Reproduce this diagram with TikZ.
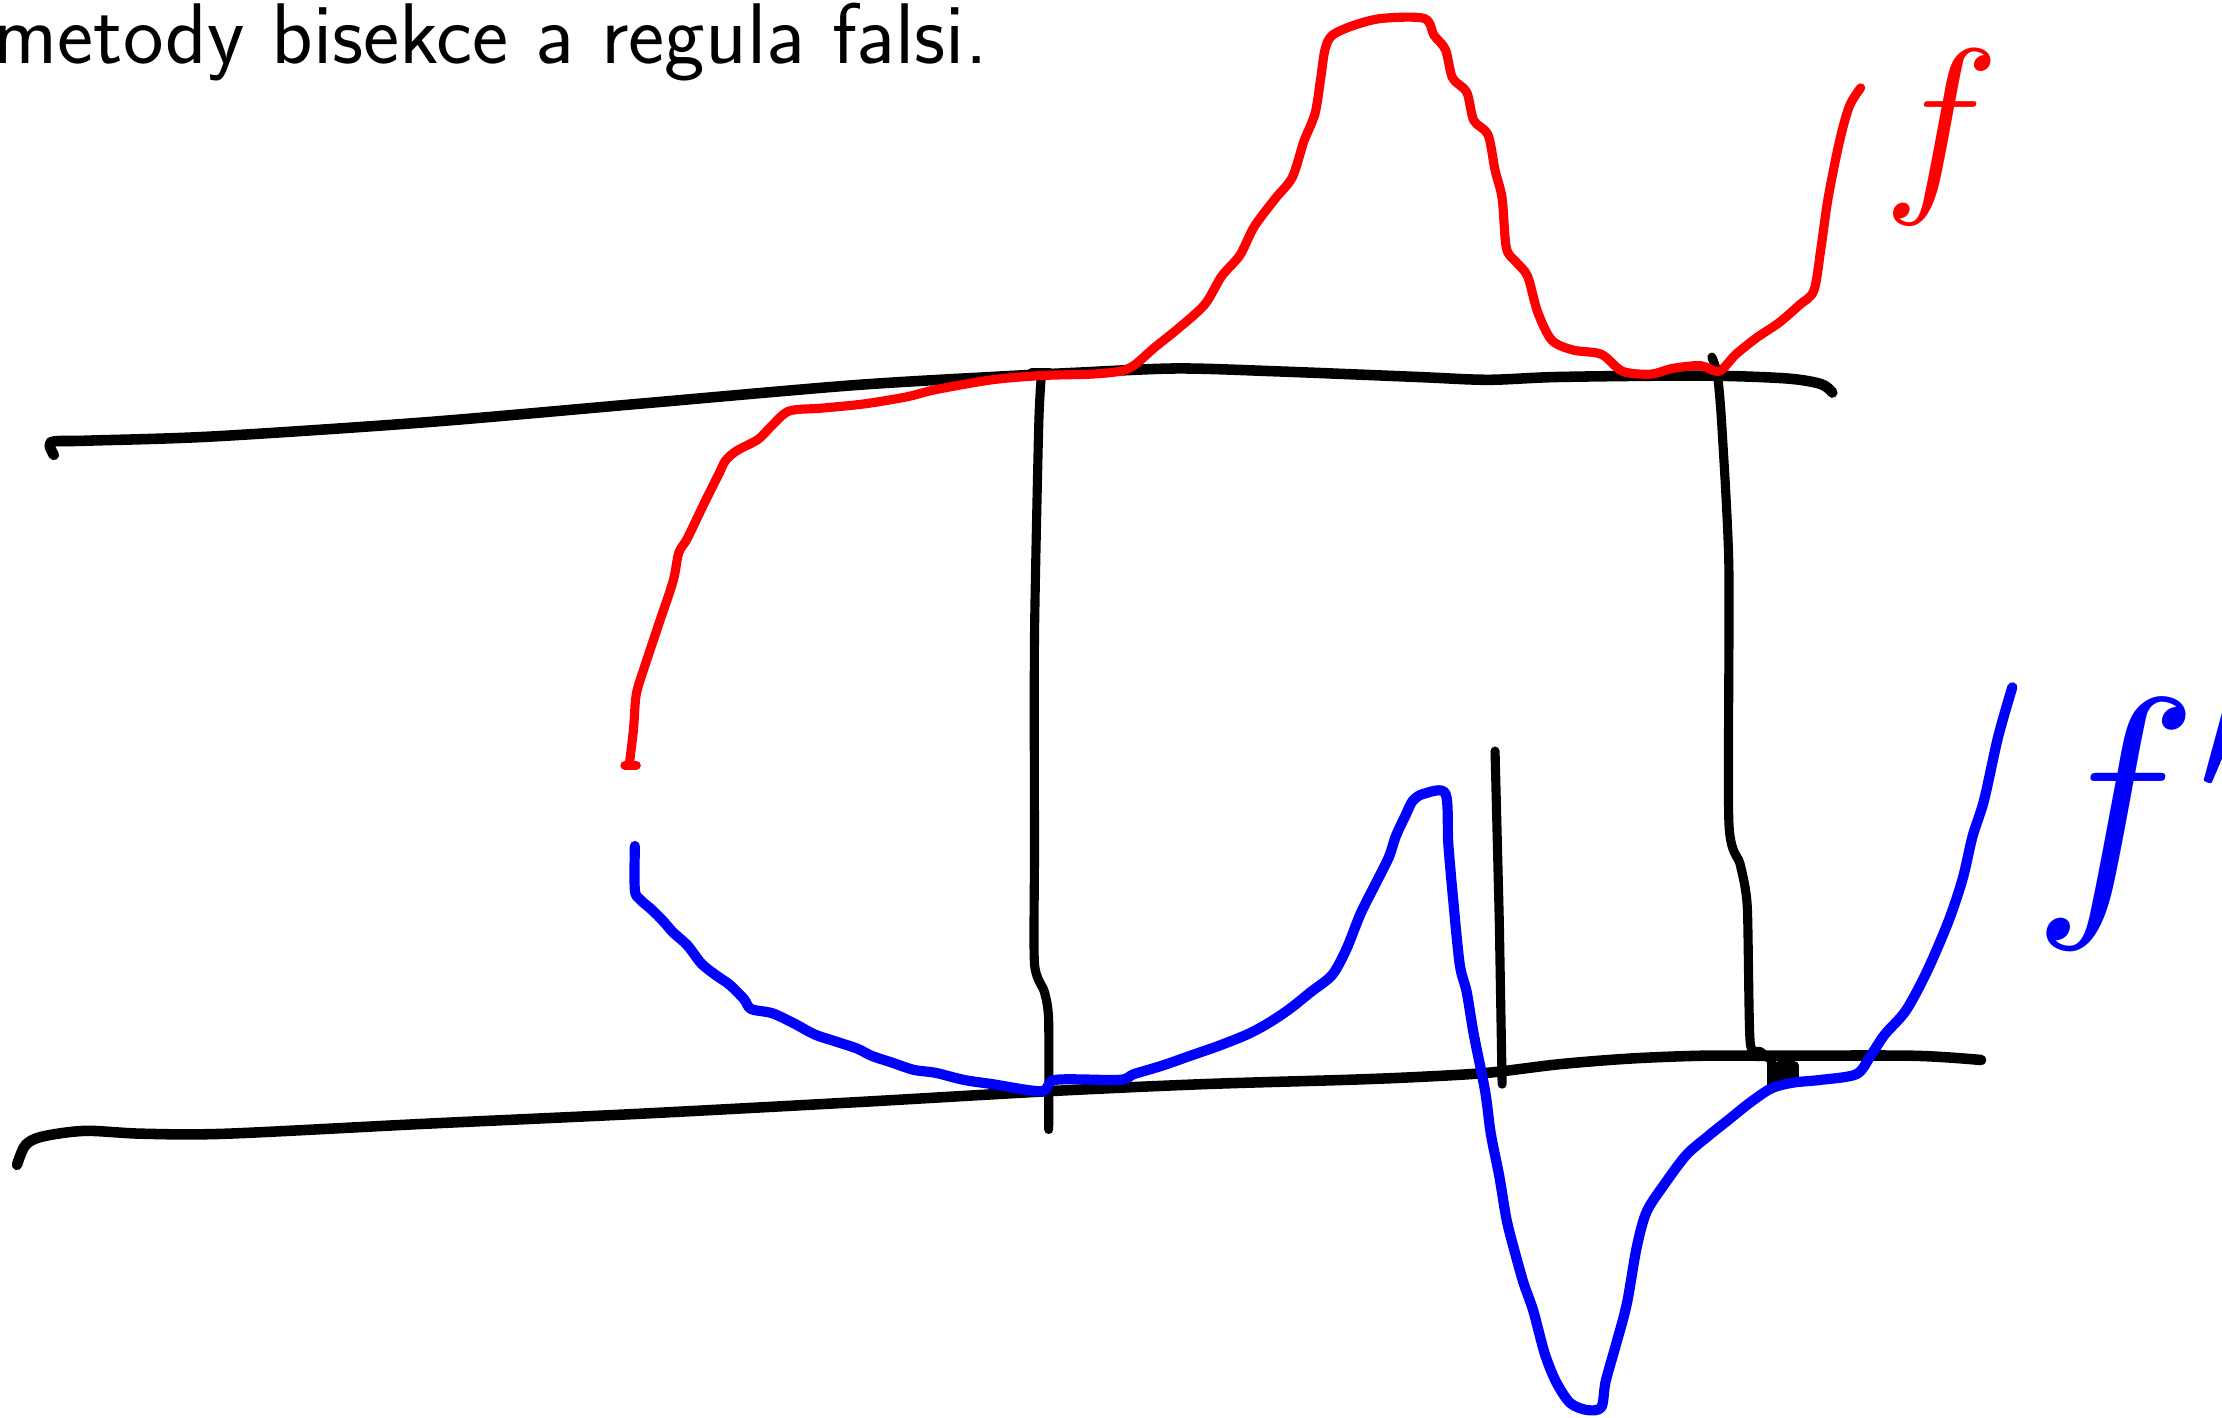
\RequirePackage{fix-cm}
\documentclass[tikz,border=0pt]{standalone}
\usepackage{xcolor}
\usepackage{tikz}
\usetikzlibrary{positioning,calc}
\definecolor{penred}{HTML}{FF0000}
\definecolor{penblue}{HTML}{0000FF}
\definecolor{pen}{HTML}{000000}

\begin{document}
\begin{tikzpicture}[x=0.1417mm, y=-0.1417mm,
    axisline/.style={draw=pen, line width=3pt, line cap=round, line join=round},
    guide/.style={draw=pen, line width=2.6pt, line cap=round, line join=round},
    fcurve/.style={draw=penred, line width=2.6pt, line cap=round, line join=round},
    dfcurve/.style={draw=penblue, line width=2.9pt, line cap=round, line join=round},
    handlabel/.style={inner sep=0pt, font=\fontsize{#1}{#1}\selectfont}
]
    \useasboundingbox (0,0) rectangle (1568,1000);

    \node[anchor=base west, inner sep=0pt, font=\fontsize{24.5}{28}\selectfont\sffamily] (title) at (-5,45) {metody bisekce a regula falsi.};

    % upper axis (f)
    \draw[axisline] plot[smooth, tension=0.5] coordinates {(38,321) (36,312) (60,311) (150,308) (300,298) (450,285) (600,272) (700,266) (760,263) (830,260) (900,262) (1000,266) (1050,268) (1100,266) (1200,265) (1260,267) (1285,271) (1293,277)};
    % lower axis (f')
    \draw[axisline] plot[smooth, tension=0.5] coordinates {(12,822) (18,808) (30,802) (60,798) (100,800) (160,800) (300,793) (450,786) (600,778) (740,770) (850,765) (950,762) (1000,760) (1050,757) (1100,751) (1150,747) (1200,745) (1250,745) (1350,745) (1398,748)};

    % verticals
    \draw[guide] (728,263) -- (741,263);
    \draw[guide] plot[smooth, tension=0.4] coordinates {(735,263) (733,300) (730,450) (730,600) (730,680) (737,700) (740,720) (740,797)};
    \draw[guide] plot[smooth, tension=0.4] coordinates {(1208,252) (1212,265) (1215,300) (1220,400) (1220,580) (1228,610) (1233,640) (1235,735) (1242,742) (1250,748)};
    \draw[guide] (1250,748) -- (1250,765);
    \draw[guide, fill=pen] (1255,752) rectangle (1266,760);
    \draw[guide] (1055,530) -- (1058,650) -- (1060,765);

    % f
    \draw[fcurve] (441,540) -- (449,540);
    \draw[fcurve] plot[smooth, tension=0.5] coordinates {(444,540) (447,515) (449,490) (455,470) (465,440) (475,410) (479,390) (485,380) (497,355) (507,335) (512,325) (520,318) (535,310) (545,300) (557,290) (580,288) (610,285) (640,280) (660,275) (700,268) (735,265) (770,264) (790,262) (800,258) (815,245) (830,233) (850,215) (862,195) (875,180) (885,160) (900,140) (912,125) (920,100) (928,80) (932,55) (935,35) (940,25) (955,18) (975,13) (1005,13) (1012,25) (1020,35) (1025,55) (1035,65) (1040,85) (1050,95) (1055,120) (1060,140) (1063,175) (1070,185) (1078,195) (1085,220) (1095,240) (1110,247) (1130,250) (1145,262) (1165,264) (1180,260) (1200,258) (1213,262) (1225,250) (1240,238) (1255,228) (1270,215) (1280,205) (1285,175) (1290,140) (1298,100) (1305,75) (1313,62)};

    % f'
    \draw[dfcurve] plot[smooth, tension=0.5] coordinates {(448,597) (448,628) (452,635) (460,642) (468,650) (475,658) (485,667) (495,680) (505,688) (515,695) (525,705) (530,712) (545,715) (560,722) (575,730) (590,735) (605,740) (615,745) (630,750) (645,755) (660,757) (680,762) (700,765) (735,770) (745,762) (790,762) (800,758) (820,752) (840,745) (860,738) (880,730) (895,722) (910,712) (925,700) (940,688) (950,670) (960,645) (970,625) (980,605) (985,590) (992,575) (997,565) (1005,560) (1020,560) (1022,595) (1025,630) (1030,680) (1035,700) (1040,730) (1048,770) (1052,800) (1058,830) (1063,860) (1068,880) (1075,905) (1082,925) (1090,955) (1098,975) (1108,990) (1120,995) (1130,993) (1133,975) (1140,950) (1148,920) (1155,880) (1162,855) (1175,835) (1190,815) (1205,802) (1220,790) (1235,778) (1250,768) (1265,764) (1285,762) (1310,758) (1320,745) (1330,730) (1345,713) (1360,685) (1375,650) (1385,620) (1392,590) (1400,565) (1410,520) (1420,485)};

    \node[handlabel=56, text=penred] (flabel) at (1370,97) {$f$};
    \node[handlabel=80, text=penblue, anchor=west] (dflabel) at (1434,576) {$f'$};
\end{tikzpicture}
\end{document}
